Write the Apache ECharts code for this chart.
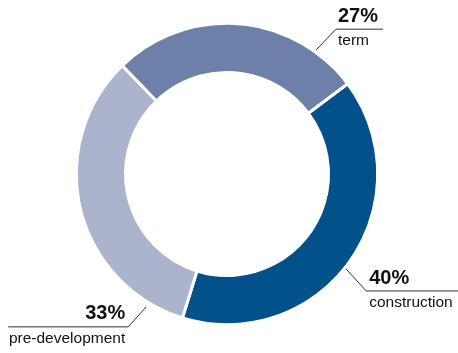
<!DOCTYPE html>
<html>
<head>
<meta charset="utf-8">
<script src="https://cdn.jsdelivr.net/npm/echarts@6/dist/echarts.min.js"></script>
<style>
html,body{margin:0;padding:0;background:#fff;}
#chart{width:458px;height:353px;}
</style>
</head>
<body>
<div id="chart"></div>
<script>
// Data (clockwise order, starting at the top-right gap)
const categories = ['construction', 'pre-development', 'term'];
const shares = [40, 33, 27];

// Styling / layout constants
const colors = ['#02518a', '#abb3cd', '#6d80aa'];
const CX = 227, CY = 174;
const R_OUT = 150.7, R_IN = 101.5;
// leader-line layout per slice: start angle (deg, CCW from +x), start radius, elbow offset, horizontal length
const leaders = [
  { ang: -38.5, r: 151, ex: 21, ey: 23, len: 92, side: 'right', tx: 3 },
  { ang: 238.7, r: 155.5, ex: -18, ey: 20, len: 120, side: 'left', tx: -3 },
  { ang: 54.3, r: 152.5, ex: 20, ey: -21, len: 47, side: 'right', tx: 2 }
];

const chart = echarts.init(document.getElementById('chart'), null, { renderer: 'canvas' });

const data = categories.map((c, i) => ({
  name: c,
  value: shares[i],
  itemStyle: { color: colors[i] }
}));

chart.setOption({
  animation: false,
  series: [{
    type: 'pie',
    center: [CX, CY],
    radius: [R_IN, R_OUT],
    startAngle: 36.8,
    clockwise: true,
    avoidLabelOverlap: false,
    emphasis: { disabled: true },
    itemStyle: { borderColor: '#fff', borderWidth: 3 },
    label: {
      show: true,
      position: 'outside',
      formatter: p => '{v|' + p.value + '%}\n{n|' + p.name + '}',
      rich: {
        v: { fontFamily: 'Liberation Sans, Arial, sans-serif', fontWeight: 'bold', fontSize: 20, color: '#111', lineHeight: 26 },
        n: { fontFamily: 'Liberation Sans, Arial, sans-serif', fontSize: 15.5, color: '#111', lineHeight: 24 }
      }
    },
    labelLine: {
      show: true,
      smooth: false,
      minTurnAngle: 0,
      maxSurfaceAngle: 180,
      lineStyle: { color: '#333', width: 1 }
    },
    labelLayout: function (p) {
      const L = leaders[p.dataIndex];
      const a = L.ang * Math.PI / 180;
      const sx = CX + L.r * Math.cos(a);
      const sy = CY - L.r * Math.sin(a);
      const ex = sx + L.ex, ey = sy + L.ey;
      const fx = L.side === 'right' ? ex + L.len : ex - L.len;
      return {
        x: ex + L.tx,
        y: ey - 26,
        align: L.side === 'right' ? 'left' : 'right',
        verticalAlign: 'top',
        labelLinePoints: [[sx, sy], [ex, ey], [fx, ey]]
      };
    },
    data: data
  }]
});
</script>
</body>
</html>
